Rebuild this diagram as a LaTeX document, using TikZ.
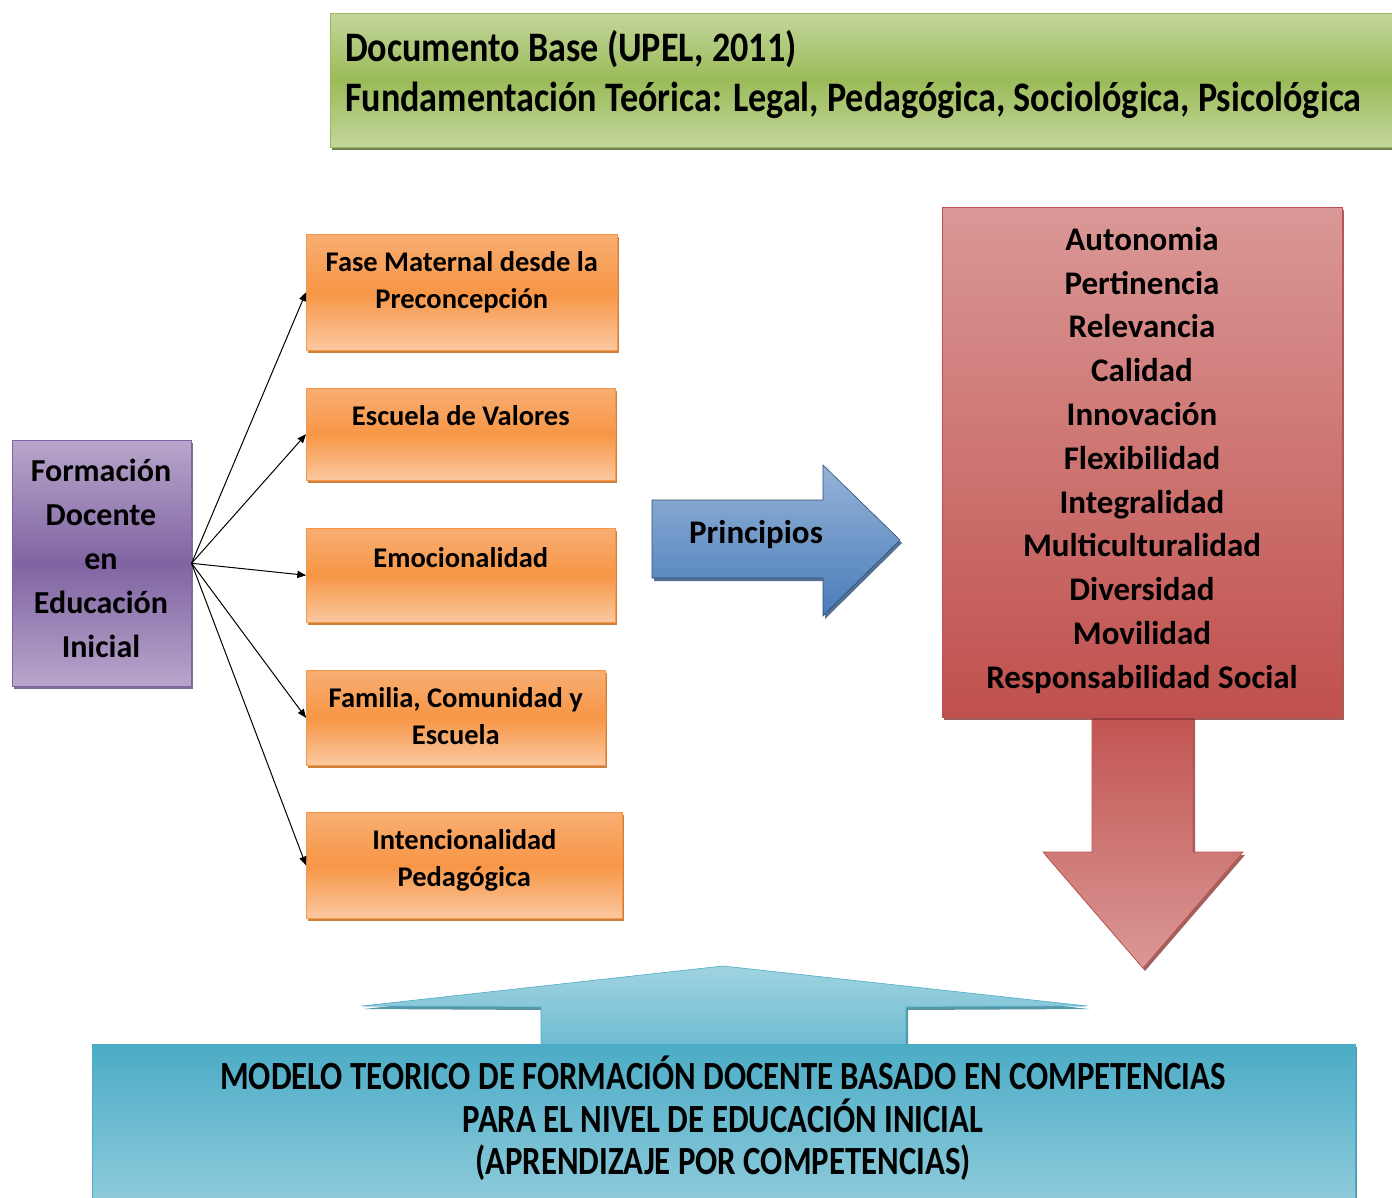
\documentclass[tikz,border=0pt]{standalone}
\usepackage{fontspec}
\setmainfont{Carlito}
\newfontfamily\narrowfont{Carlito}[FakeStretch=0.82]
\newfontfamily\bandfont{Carlito}[FakeStretch=0.86]
\usetikzlibrary{arrows,shadows,positioning}

\definecolor{grnlite}{HTML}{C3D69B}
\definecolor{grnmid}{HTML}{9BBB59}
\definecolor{grndark}{HTML}{4F6228}
\definecolor{purlite}{HTML}{B7A6CB}
\definecolor{purmid}{HTML}{8064A2}
\definecolor{purdark}{HTML}{5F497A}
\definecolor{orgtop}{HTML}{F8AE73}
\definecolor{orgmid}{HTML}{F79646}
\definecolor{orgbot}{HTML}{FBC8A0}
\definecolor{orgdark}{HTML}{C0600A}
\definecolor{redtop}{HTML}{DA9896}
\definecolor{redbot}{HTML}{C0504D}
\definecolor{reddark}{HTML}{8C3836}
\definecolor{blutop}{HTML}{95B3D7}
\definecolor{blubot}{HTML}{4A7CBA}
\definecolor{bludark}{HTML}{2C4D75}
\definecolor{aqulite}{HTML}{A0D3E1}
\definecolor{aqumid}{HTML}{4BACC6}
\definecolor{aqudark}{HTML}{2E7A8E}

\begin{document}
\begin{tikzpicture}[x=1pt,y=-1pt,font=\bfseries,
	box/.style={anchor=north west,inner sep=0pt,line width=0.6pt},
	shade/.style={drop shadow={shadow xshift=2pt,shadow yshift=-3pt,opacity=0.8,fill=#1}},
	greenbox/.style={box,draw=grnmid,top color=grnlite,bottom color=grnlite,middle color=grnmid,shade=grndark},
	purplebox/.style={box,draw=purmid,top color=purlite,bottom color=purlite,middle color=purmid,shade=purdark},
	orangebox/.style={box,draw=orgmid,top color=orgtop,bottom color=orgbot,middle color=orgmid,shade=orgdark},
	redbox/.style={box,draw=redbot,top color=redtop,bottom color=redbot,shade=reddark},
	otext/.style={anchor=north,inner sep=0pt,align=center,font=\bfseries\fontsize{28.5}{37}\selectfont}]

	\path[use as bounding box,clip] (0,0) rectangle (1392,1198);

	% top band
	\node[greenbox,minimum width=1080pt,minimum height=134pt] (upel) at (330,13) {};
	\node[anchor=north west,inner sep=0pt,align=left,font=\bandfont\bfseries\fontsize{42}{50}\selectfont] (upeltxt) at (345,30)
		{Documento Base (UPEL, 2011)\\Fundamentación Teórica: Legal, Pedagógica, Sociológica, Psicológica};

	% left box and the five phases
	\node[purplebox,minimum width=179pt,minimum height=246pt] (forma) at (12,440) {};
	\node[anchor=north,inner sep=0pt,align=center,font=\bfseries\fontsize{32}{44}\selectfont] (formatxt) at (101,459)
		{Formación\\Docente\\en\\Educación\\Inicial};

	\node[orangebox,minimum width=311pt,minimum height=116pt] (fase) at (306,234) {};
	\node[orangebox,minimum width=309pt,minimum height=92pt] (valores) at (306,388) {};
	\node[orangebox,minimum width=309pt,minimum height=94pt] (emocion) at (306,528) {};
	\node[orangebox,minimum width=299pt,minimum height=95pt] (familia) at (306,670) {};
	\node[orangebox,minimum width=316pt,minimum height=106pt] (intenc) at (306,812) {};

	\node[otext] (fasetxt) at ([yshift=-17pt]fase.north) {Fase Maternal desde la\\Preconcepción};
	\node[otext] (valorestxt) at ([yshift=-17pt]valores.north) {Escuela de Valores};
	\node[otext] (emociontxt) at ([yshift=-19pt]emocion.north) {Emocionalidad};
	\node[otext] (familiatxt) at ([yshift=-17pt]familia.north) {Familia, Comunidad y\\Escuela};
	\node[otext] (intenctxt) at ([yshift=-17pt]intenc.north) {Intencionalidad\\Pedagógica};

	\draw [->,>=triangle 45,line width=1pt] (forma.east) -- (fase.west);
	\draw [->,>=triangle 45,line width=1pt] (forma.east) -- (valores.west);
	\draw [->,>=triangle 45,line width=1pt] (forma.east) -- (emocion.west);
	\draw [->,>=triangle 45,line width=1pt] (forma.east) -- (familia.west);
	\draw [->,>=triangle 45,line width=1pt] (forma.east) -- (intenc.west);

	% principios arrow
	\path[draw=bludark,line width=0.6pt,top color=blutop,bottom color=blubot,shade=bludark]
		(652,500) -- (823,500) -- (823,465) -- (900,540) -- (823,616) -- (823,578) -- (652,578) -- cycle;
	\node[anchor=base,inner sep=0pt,font=\bfseries\fontsize{33}{40}\selectfont] (princ) at (756,543) {Principios};

	% principles box and arrow down
	\path[draw=redbot,line width=0.6pt,top color=redbot,bottom color=redtop,shade=reddark]
		(1092,700) -- (1193,700) -- (1193,852) -- (1243,852) -- (1143,968) -- (1043,852) -- (1092,852) -- cycle;
	\node[redbox,minimum width=400pt,minimum height=510pt] (princbox) at (942,207) {};
	\node[anchor=north,inner sep=0pt,align=center,font=\bfseries\fontsize{33}{43.8}\selectfont] (princtxt) at (1142,227)
		{Autonomia\\Pertinencia\\Relevancia\\Calidad\\Innovación\\Flexibilidad\\Integralidad\\Multiculturalidad\\Diversidad\\Movilidad\\Responsabilidad Social};

	% model box and arrow up
	\path[draw=aqumid,line width=0.6pt,top color=aqulite,bottom color=aqumid!85,shade=aqudark]
		(541,1060) -- (541,1007) -- (362,1006) -- (723,966) -- (1087,1006) -- (906,1007) -- (906,1060) -- cycle;
	\node[box,draw=aqumid,top color=aqumid,bottom color=aqulite,shade=aqudark,minimum width=1263pt,minimum height=200pt] (modelo) at (92,1044) {};
	\node[anchor=north,inner sep=0pt,align=center,font=\narrowfont\bfseries\fontsize{40}{42.5}\selectfont] (modelotxt) at (723,1056)
		{MODELO TEORICO DE FORMACIÓN DOCENTE BASADO EN COMPETENCIAS\\PARA EL NIVEL DE EDUCACIÓN INICIAL\\(APRENDIZAJE POR COMPETENCIAS)};
\end{tikzpicture}
\end{document}
